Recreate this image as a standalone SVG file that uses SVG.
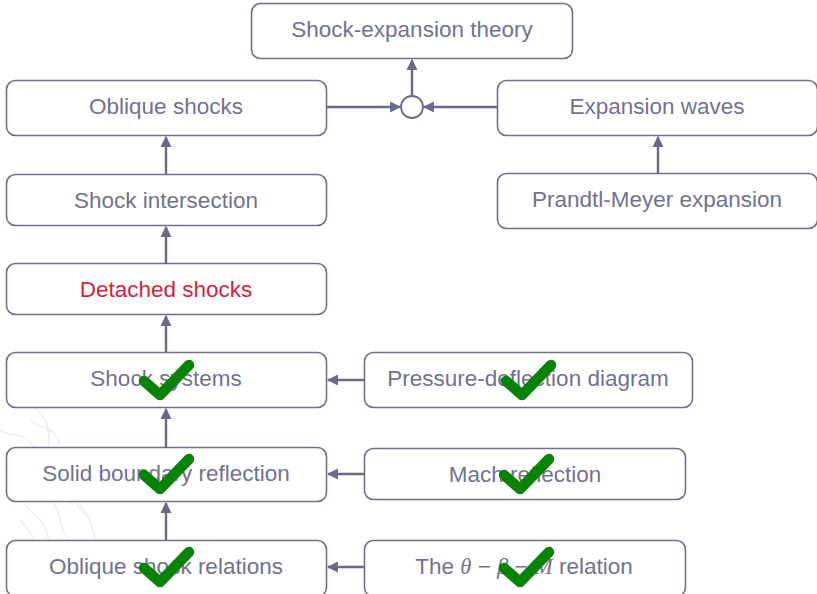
<svg xmlns="http://www.w3.org/2000/svg" width="817" height="594" viewBox="0 0 817 594">
<style>
.box{fill:#ffffff;stroke:#6f6f8c;stroke-width:1.6}
.t{font-family:"Liberation Sans",Arial,sans-serif;font-size:22.5px;fill:#72728f;text-anchor:middle}
.red{fill:#d51f3c}
.m{font-family:"Liberation Serif","Times New Roman",serif;font-style:italic}
.c{fill:none;stroke:#6a6a88;stroke-width:2.4}
.chk{fill:none;stroke:#078407;stroke-width:10.5;stroke-linecap:round;stroke-linejoin:round}
.wm{fill:none;stroke:#ececf0;stroke-width:1.3}
</style>
<defs>
<marker id="ah" viewBox="0 0 10 10" refX="9" refY="5" markerWidth="4.6" markerHeight="4.6" orient="auto" markerUnits="strokeWidth">
<path d="M0,0 L10,5 L0,10 z" fill="#6a6a88"/>
</marker>
<path id="tick" d="M0,0 L16,14 L45,-16" class="chk"/>
</defs>
<rect width="817" height="594" fill="#ffffff"/>
<g id="watermark">
<path class="wm" d="M2,400 C20,410 30,395 45,420 C55,440 40,455 60,470 C75,480 70,500 85,515"/>
<path class="wm" d="M0,430 C18,440 25,430 35,450 C45,470 30,485 50,500 C65,512 55,530 75,545"/>
<path class="wm" d="M5,470 C20,480 15,500 35,515 C50,525 45,545 60,560 C70,570 68,585 80,594"/>
<path class="wm" d="M30,420 C40,430 55,425 60,445 M45,480 C55,490 70,488 72,505 M20,520 C30,530 40,545 38,560"/>
<path class="wm" d="M80,505 C95,520 90,540 105,550 M60,540 C70,555 85,560 90,580"/>
</g>
<g id="connectors">
<line class="c" x1="326" y1="107" x2="400" y2="107" marker-end="url(#ah)"/>
<line class="c" x1="497" y1="107" x2="424" y2="107" marker-end="url(#ah)"/>
<line class="c" x1="412" y1="96" x2="412" y2="60" marker-end="url(#ah)"/>
<line class="c" x1="166" y1="174" x2="166" y2="137" marker-end="url(#ah)"/>
<line class="c" x1="166" y1="263" x2="166" y2="227" marker-end="url(#ah)"/>
<line class="c" x1="166" y1="352" x2="166" y2="316" marker-end="url(#ah)"/>
<line class="c" x1="166" y1="447" x2="166" y2="409" marker-end="url(#ah)"/>
<line class="c" x1="166" y1="540" x2="166" y2="503" marker-end="url(#ah)"/>
<line class="c" x1="658" y1="173" x2="658" y2="137" marker-end="url(#ah)"/>
<line class="c" x1="364" y1="380" x2="328" y2="380" marker-end="url(#ah)"/>
<line class="c" x1="364" y1="474" x2="328" y2="474" marker-end="url(#ah)"/>
<line class="c" x1="364" y1="567" x2="328" y2="567" marker-end="url(#ah)"/>
</g>
<g id="junction"><circle cx="412" cy="107" r="11" fill="#ffffff" stroke="#6a6a88" stroke-width="1.8"/></g>
<g id="shock-expansion-theory"><rect class="box" x="251.5" y="3.5" width="321" height="55" rx="9"/><text class="t" x="412" y="37">Shock-expansion theory</text></g>
<g id="oblique-shocks"><rect class="box" x="6.5" y="80.5" width="320" height="55" rx="9"/><text class="t" x="166" y="114">Oblique shocks</text></g>
<g id="expansion-waves"><rect class="box" x="497.5" y="80.5" width="320" height="55" rx="9"/><text class="t" x="657" y="114">Expansion waves</text></g>
<g id="shock-intersection"><rect class="box" x="6.5" y="174.5" width="320" height="51" rx="9"/><text class="t" x="166" y="208">Shock intersection</text></g>
<g id="prandtl-meyer"><rect class="box" x="497.5" y="173.5" width="320" height="55" rx="9"/><text class="t" x="657" y="207">Prandtl-Meyer expansion</text></g>
<g id="detached-shocks"><rect class="box" x="6.5" y="263.5" width="320" height="51" rx="9"/><text class="t red" x="166" y="297">Detached shocks</text></g>
<g id="shock-systems"><rect class="box" x="6.5" y="352.5" width="320" height="55" rx="9"/><text class="t" x="166" y="386">Shock systems</text></g>
<g id="pressure-deflection"><rect class="box" x="364.5" y="352.5" width="328" height="55" rx="9"/><text class="t" x="528" y="386">Pressure-deflection diagram</text></g>
<g id="solid-boundary"><rect class="box" x="6.5" y="447.5" width="320" height="54" rx="9"/><text class="t" x="166" y="481">Solid boundary reflection</text></g>
<g id="mach-reflection"><rect class="box" x="364.5" y="448.5" width="321" height="51" rx="9"/><text class="t" x="525" y="482">Mach reflection</text></g>
<g id="oblique-shock-relations"><rect class="box" x="6.5" y="540.5" width="320" height="56" rx="9"/><text class="t" x="166" y="574">Oblique shock relations</text></g>
<g id="theta-beta-m"><rect class="box" x="364.5" y="540.5" width="321" height="56" rx="9"/><text class="t" x="524" y="574">The <tspan class="m">θ</tspan> − <tspan class="m">β</tspan> − <tspan class="m">M</tspan> relation</text></g>
<g id="checkmarks">
<use href="#tick" x="144" y="381"/>
<use href="#tick" x="144" y="475"/>
<use href="#tick" x="144" y="568"/>
<use href="#tick" x="506" y="381"/>
<use href="#tick" x="504" y="475"/>
<use href="#tick" x="504" y="568"/>
</g>
</svg>
